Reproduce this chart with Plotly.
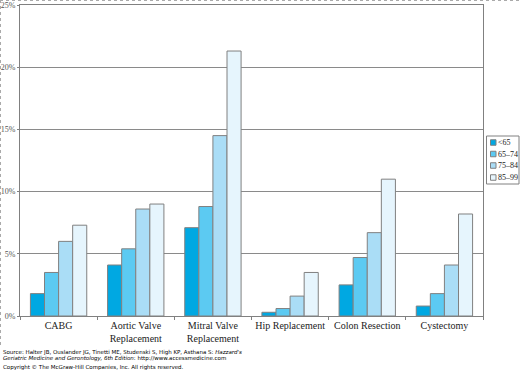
import plotly.graph_objects as go

categories = ["CABG", "Aortic Valve<br>Replacement", "Mitral Valve<br>Replacement",
              "Hip Replacement", "Colon Resection", "Cystectomy"]
series_names = ["<65", "65–74", "75–84", "85–99"]
v_lt65 = [1.8, 4.1, 7.1, 0.3, 2.5, 0.8]
v_65_74 = [3.5, 5.4, 8.8, 0.6, 4.7, 1.8]
v_75_84 = [6.0, 8.6, 14.5, 1.6, 6.7, 4.1]
v_85_99 = [7.3, 9.0, 21.3, 3.5, 11.0, 8.2]
y_ticks = [0, 5, 10, 15, 20, 25]
y_tick_labels = ["0%", "5%", "10%", "15%", "20%", "25%"]

colors = ["#00A8E2", "#5CCAF2", "#AADDF6", "#E6F5FD"]
serif = "Liberation Serif, Times New Roman, serif"
sans = "DejaVu Sans, Verdana, sans-serif"

W, H = 520, 370
L, R, T, B = 20, 37, 5, 54
pw, ph = W - L - R, H - T - B


def px(x):
    return (x - L) / pw


def py(y):
    return (H - B - y) / ph


fig = go.Figure()
for name, vals, c in zip(series_names, [v_lt65, v_65_74, v_75_84, v_85_99], colors):
    fig.add_trace(go.Bar(x=categories, y=vals, name=name, showlegend=False,
                         marker=dict(color=c, line=dict(color="#808080", width=1))))

fig.update_layout(
    width=W, height=H,
    margin=dict(l=L, r=R, t=T, b=B, autoexpand=False),
    paper_bgcolor="white", plot_bgcolor="white",
    barmode="group", bargap=0.27, bargroupgap=0,
    font=dict(family=serif, size=10, color="black"),
    xaxis=dict(showline=True, linecolor="#808080", mirror=True, ticks="outside",
               tickcolor="#808080", ticklen=3, tickson="boundaries", tickangle=0,
               automargin=False,
               tickfont=dict(family=serif, size=10, color="#222")),
    yaxis=dict(range=[0, 25], tickvals=y_ticks, ticktext=y_tick_labels,
               showgrid=True, gridcolor="#8a8a8a", gridwidth=1,
               showline=True, linecolor="#808080", mirror=True,
               ticks="outside", tickcolor="#808080", ticklen=2, automargin=False,
               tickfont=dict(family=serif, size=8, color="#555"), zeroline=False),
    showlegend=False,
)

# custom compact legend (as in reference)
fig.add_shape(type="rect", xref="paper", yref="paper",
              x0=px(486.5), x1=px(519), y0=py(136), y1=py(184),
              line=dict(color="#808080", width=1), fillcolor="white", layer="above")
row_y = [142.5, 154, 165.5, 177.5]
for name, c, yy in zip(series_names, colors, row_y):
    fig.add_shape(type="rect", xref="paper", yref="paper",
                  x0=px(490.5), x1=px(496), y0=py(yy - 2.75), y1=py(yy + 2.75),
                  line=dict(color="#808080", width=1), fillcolor=c, layer="above")
    fig.add_annotation(xref="paper", yref="paper", x=px(496.5), y=py(yy),
                       xanchor="left", yanchor="middle", text=name, showarrow=False,
                       font=dict(family=serif, size=8, color="#222"))

# outer dotted border
fig.add_shape(type="line", xref="paper", yref="paper", x0=px(0), x1=px(520), y0=py(0.5), y1=py(0.5),
              line=dict(color="#aaaaaa", width=1, dash="dot"))
fig.add_shape(type="line", xref="paper", yref="paper", x0=px(0.5), x1=px(0.5), y0=py(0), y1=py(345),
              line=dict(color="#aaaaaa", width=1, dash="dot"))

src1 = "Source: Halter JB, Ouslander JG, Tinetti ME, Studenski S, High KP, Asthana S: <i>Hazzard's</i>"
src2 = "<i>Geriatric Medicine and Gerontology, 6th Edition</i>: http://www.accessmedicine.com"
src3 = "Copyright © The McGraw-Hill Companies, Inc. All rights reserved."
for t, yy in [(src1, 352), (src2, 358.5), (src3, 367)]:
    fig.add_annotation(xref="paper", yref="paper", x=px(1), y=py(yy), xanchor="left",
                       yanchor="middle", text=t, showarrow=False, align="left",
                       font=dict(family=sans, size=5.5, color="black"))

fig.write_html("out.html", config={"displayModeBar": False},
               post_script="document.body.style.margin='0';document.body.style.overflow='hidden';")
